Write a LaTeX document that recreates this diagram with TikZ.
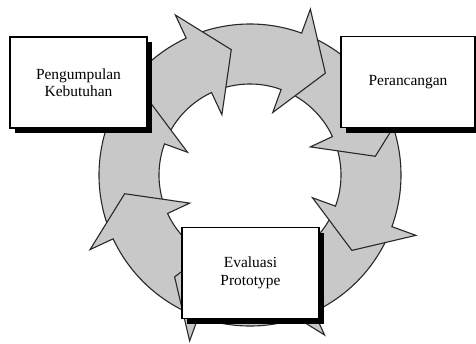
\documentclass[tikz,border=0pt]{standalone}
\usepackage{fontspec}
\setmainfont{Liberation Serif}
\usetikzlibrary{calc,shadows}
\definecolor{ringfill}{RGB}{200,200,200}
\definecolor{ringline}{RGB}{40,40,40}
\begin{document}
\begin{tikzpicture}[x=1bp,y=1bp,
  seg/.style={fill=ringfill, draw=ringline, line width=1.1bp, line join=miter},
  stage/.style={draw=black, line width=1.5bp, fill=white,
    minimum width=137bp, minimum height=91bp, inner sep=0pt, align=center,
    font=\fontsize{15.5}{17.5}\selectfont,
    drop shadow={shadow xshift=5bp, shadow yshift=-5bp, fill=black, opacity=1}}]
\useasboundingbox (-250,-168) rectangle (226,175);

% eight curved arrows around the cycle, each head covering the next tail
\foreach \t in {-65,-20,25,70,115,160,205,250}{
  \draw[seg] (\t+43:151bp) arc[start angle=\t+43, end angle=\t, radius=151bp]
    -- (\t:176.5bp) -- ($(\t:121.5bp)+(\t-90:36bp)$) -- (\t:66.5bp)
    -- (\t:91bp) arc[start angle=\t, end angle=\t+43, radius=91bp] -- cycle;
}

% the three stages
\node[stage] (need) at (-171.5,92.5) {Pengumpulan\\Kebutuhan};
\node[stage, minimum width=134bp] (design) at (158,93) {Perancangan};
\node[stage] (eval) at (0.5,-98) {Evaluasi\\Prototype};
\end{tikzpicture}
\end{document}
